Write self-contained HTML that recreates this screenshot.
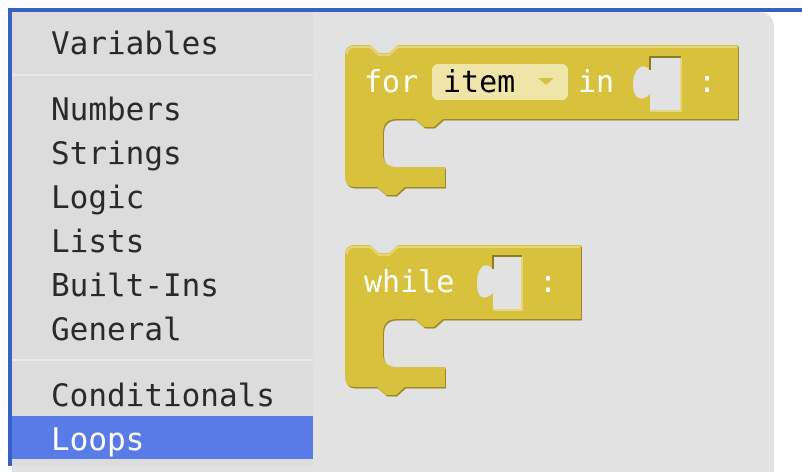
<!DOCTYPE html>
<html><head><meta charset="utf-8"><style>
body{margin:0;width:802px;height:466px;background:#fff;position:relative;overflow:hidden;font-family:"DejaVu Sans Mono","Liberation Mono",monospace;}
.bt{position:absolute;left:8px;top:8px;width:794px;height:4px;background:#3561c2;}
.bl{position:absolute;left:8px;top:8px;width:4px;height:458px;background:#3561c2;}
.ws{position:absolute;left:12px;top:12px;width:762px;height:460px;background:#e2e2e2;border-top-right-radius:14px;}
.sb{position:absolute;left:12px;top:12px;width:301px;height:454px;background:#dcdcdc;}
.sep{position:absolute;left:12px;width:301px;height:2px;background:#e8e8e8;}
.it{position:absolute;left:51px;font-size:31px;color:#2a2a2a;line-height:32px;}
.sel{position:absolute;left:12px;top:416px;width:301px;height:43px;background:#587be8;}
text{font-family:"DejaVu Sans Mono","Liberation Mono",monospace;font-size:30px;}
</style></head><body>
<div class="ws"></div>
<div class="sb"></div>
<div class="bt"></div><div class="bl"></div>
<div class="sep" style="top:74px"></div>
<div class="sep" style="top:359px"></div>
<div class="sel"></div>
<div class="it" style="top:28px">Variables</div>
<div class="it" style="top:94px">Numbers</div>
<div class="it" style="top:138px">Strings</div>
<div class="it" style="top:182px">Logic</div>
<div class="it" style="top:226px">Lists</div>
<div class="it" style="top:270px">Built-Ins</div>
<div class="it" style="top:314px">General</div>
<div class="it" style="top:380px">Conditionals</div>
<div class="it" style="top:424px;color:#fff">Loops</div>
<svg width="802" height="466" style="position:absolute;left:0;top:0">
<defs>
<path id="pf" d="M345,55 Q345,45 355,45 H370 l9,8 h10 l9,-8 H738 V119 H443 l-9,8 h-10 l-9,-8 H397 Q383,119 383,133 V153 Q383,167 397,167 H445 V187 H405 l-9,8 h-10 l-9,-8 H355 Q345,187 345,177 Z"/>
<path id="pw" d="M345,255 Q345,245 355,245 H370 l9,8 h10 l9,-8 H581 V319 H443 l-9,8 h-10 l-9,-8 H397 Q383,319 383,333 V353 Q383,367 397,367 H445 V387 H405 l-9,8 h-10 l-9,-8 H355 Q345,387 345,377 Z"/>
</defs>
<use href="#pf" transform="translate(1,1.5)" fill="#9c882a"/>
<use href="#pf" fill="#d8c13c"/>
<path d="M347,54 Q347,47 355,47 H370 l9,8 h10 l9,-8 H737" stroke="#e6d57a" stroke-width="2" fill="none"/>
<use href="#pw" transform="translate(1,1.5)" fill="#9c882a"/>
<use href="#pw" fill="#d8c13c"/>
<path d="M347,254 Q347,247 355,247 H370 l9,8 h10 l9,-8 H580" stroke="#e6d57a" stroke-width="2" fill="none"/>
<text x="364" y="92" fill="#fff">for</text>
<rect x="432" y="64" width="136" height="36" rx="6" fill="#efe5a9"/>
<text x="443" y="92" fill="#000">item</text>
<path d="M538,78 h16 l-8,7 z" fill="#d8c13c"/>
<text x="578" y="92" fill="#fff">in</text>
<path d="M681,57 H650 V70 Q644,64 639,68 Q633,73 633,84 Q633,96 639,98 Q644,100 650,94 V111 H681 Z" fill="#e2e2e2"/>
<path d="M650,111 H681 V57" stroke="#e6d57a" stroke-width="2" fill="none"/>
<path d="M681,57 H650 V70" stroke="#8c7a24" stroke-width="2" fill="none"/>
<text x="698" y="92" fill="#fff">:</text>
<text x="364" y="292" fill="#fff">while</text>
<path d="M522,256 H493 V269 Q487,263 482,267 Q477,272 477,283 Q477,295 482,297 Q487,299 493,293 V310 H522 Z" fill="#e2e2e2"/>
<path d="M493,310 H522 V256" stroke="#e6d57a" stroke-width="2" fill="none"/>
<path d="M522,256 H493 V269" stroke="#8c7a24" stroke-width="2" fill="none"/>
<text x="539" y="292" fill="#fff">:</text>
</svg>
</body></html>
